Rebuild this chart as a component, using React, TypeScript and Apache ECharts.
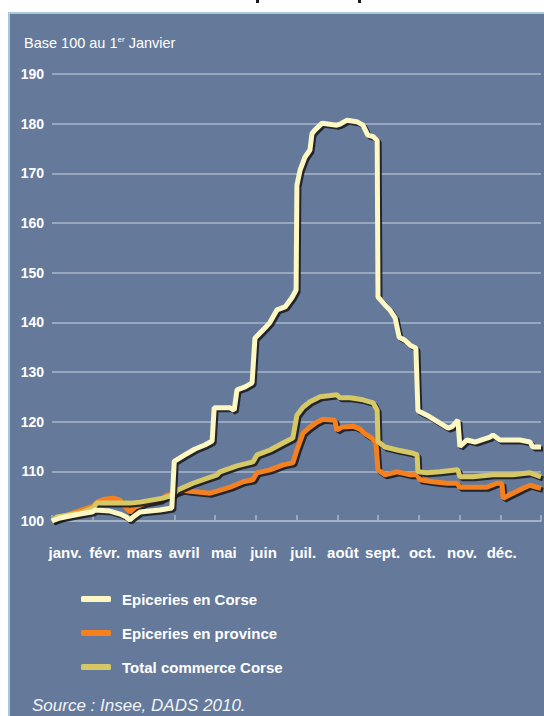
import React, { useEffect, useRef } from 'react';
import * as echarts from 'echarts';

const months = ['janv.', 'févr.', 'mars', 'avril', 'mai', 'juin', 'juil.', 'août', 'sept.', 'oct.', 'nov.', 'déc.'];
const seriesNames = ['Epiceries en Corse', 'Epiceries en province', 'Total commerce Corse'];

// [month position (0 = 1er janvier, 12 = fin décembre), indice base 100]
const corse: [number, number][] = [
  [0.0, 100], [0.2, 100.6], [0.44, 101.0], [0.69, 101.4], [0.98, 101.8], [1.06, 102.2], [1.42, 102.0],
  [1.67, 101.4], [1.82, 100.8], [1.91, 100.2], [1.99, 100.8], [2.16, 101.8], [2.4, 102.0], [2.65, 102.2],
  [2.94, 102.6], [3.0, 112.0], [3.26, 113.3], [3.51, 114.5], [3.75, 115.3], [3.93, 116.1], [3.98, 122.8],
  [4.37, 122.8], [4.47, 122.3], [4.54, 126.4], [4.74, 127.0], [4.91, 127.8], [4.98, 136.8], [5.23, 138.9],
  [5.35, 140.0], [5.52, 142.5], [5.72, 143.1], [5.89, 145.0], [5.99, 146.5], [6.01, 167.6], [6.09, 170.7],
  [6.21, 173.3], [6.33, 174.7], [6.38, 178.0], [6.45, 178.7], [6.63, 180.1], [6.99, 179.7], [7.07, 179.9],
  [7.24, 180.7], [7.48, 180.4], [7.63, 179.7], [7.75, 177.7], [7.88, 177.4], [7.98, 176.6], [8.0, 145.1],
  [8.17, 143.5], [8.29, 142.5], [8.42, 140.9], [8.52, 137.0], [8.66, 136.4], [8.79, 135.4], [8.93, 134.8],
  [8.98, 122.2], [9.2, 121.3], [9.52, 119.7], [9.72, 118.7], [9.82, 119.0], [9.96, 120.3], [10.01, 115.0],
  [10.18, 116.3], [10.38, 115.9], [10.75, 116.9], [10.82, 117.3], [10.99, 116.3], [11.48, 116.3],
  [11.73, 115.9], [11.8, 114.9], [12.0, 114.9],
];

const province: [number, number][] = [
  [0.0, 100], [0.44, 101.4], [1.01, 103.0], [1.1, 103.8], [1.3, 104.4], [1.5, 104.6], [1.67, 104.2],
  [1.84, 102.4], [1.91, 101.8], [2.04, 102.8], [2.28, 103.6], [2.65, 104.2], [2.82, 105.2], [2.94, 105.4],
  [3.07, 105.8], [3.21, 106.2], [3.39, 106.0], [3.63, 105.8], [3.88, 105.6], [4.05, 106.0], [4.37, 106.8],
  [4.69, 107.9], [4.93, 108.3], [5.03, 109.7], [5.35, 110.3], [5.67, 111.3], [5.91, 111.7], [6.01, 114.3],
  [6.16, 117.7], [6.33, 118.9], [6.5, 119.9], [6.65, 120.5], [6.94, 120.3], [6.99, 118.3], [7.12, 118.9],
  [7.39, 119.1], [7.56, 118.5], [7.68, 117.6], [7.85, 116.7], [7.95, 115.7], [8.0, 110.3], [8.17, 109.3],
  [8.47, 109.9], [8.79, 109.3], [8.96, 109.3], [9.03, 108.3], [9.35, 107.9], [9.69, 107.6], [9.94, 107.6],
  [10.01, 106.8], [10.67, 106.8], [10.92, 107.6], [11.04, 107.6], [11.07, 104.6], [11.31, 105.6],
  [11.56, 106.6], [11.73, 107.2], [11.9, 106.8], [12.0, 106.6],
];

const commerce: [number, number][] = [
  [0.0, 100], [0.12, 100.8], [0.69, 101.6], [1.01, 102.6], [1.1, 103.6], [1.5, 103.6], [1.91, 103.6],
  [2.16, 103.8], [2.72, 104.6], [2.97, 105.2], [3.07, 106.2], [3.46, 107.6], [4.05, 109.3], [4.12, 109.9],
  [4.54, 111.1], [4.93, 111.9], [5.03, 113.3], [5.35, 114.3], [5.67, 115.7], [5.91, 116.7], [6.01, 121.3],
  [6.16, 122.9], [6.33, 124.0], [6.58, 125.0], [6.99, 125.4], [7.07, 124.8], [7.31, 124.8], [7.63, 124.4],
  [7.88, 123.8], [7.98, 122.3], [8.0, 116.0], [8.17, 114.9], [8.47, 114.3], [8.83, 113.7], [8.96, 113.3],
  [8.98, 109.9], [9.2, 109.7], [9.52, 109.9], [9.96, 110.3], [10.01, 108.9], [10.33, 108.9], [10.82, 109.3],
  [11.31, 109.3], [11.73, 109.7], [12.0, 108.9],
];

const colors = ['#fdf7c3', '#f4801f', '#d7c866'];
const labelAt = (i: number) => 0.32 + 0.974 * i;

export default function App() {
  const ref = useRef<HTMLDivElement>(null);
  useEffect(() => {
    const chart = echarts.init(ref.current!, null, { renderer: 'svg' });
    const font = 'Liberation Sans, Arial, sans-serif';
    const shadowColor = 'rgba(28,28,32,0.9)';
    const line = (name: string, data: [number, number][], color: string, z: number) => ({
      name,
      type: 'line',
      data,
      symbol: 'none',
      z,
      lineStyle: { color, width: 5 },
      itemStyle: { color },
    });
    const shade = (data: [number, number][], z: number) => ({
      name: 'ombre',
      type: 'line',
      xAxisIndex: 1,
      yAxisIndex: 1,
      data,
      symbol: 'none',
      silent: true,
      z,
      lineStyle: { color: shadowColor, width: 5 },
    });
    const hiddenAxis = { show: false, type: 'value' };
    chart.setOption({
      animation: false,
      grid: [
        { left: 52, right: 3, top: 74, bottom: 195 },
        { left: 54, right: 1, top: 76, bottom: 193 },
      ],
      xAxis: [
        {
          type: 'value',
          min: 0,
          max: 12,
          interval: 1,
          axisLine: { show: true, lineStyle: { color: '#a9b7c9', width: 1.5 } },
          axisTick: { show: true, inside: true, length: 6, lineStyle: { color: '#a9b7c9', width: 1.5 } },
          splitLine: { show: false },
          axisLabel: {
            customValues: months.map((_, i) => labelAt(i)),
            formatter: (v: number) => months[Math.round((v - 0.32) / 0.974)] ?? '',
            color: '#ffffff',
            fontFamily: font,
            fontWeight: 'bold',
            fontSize: 15,
            margin: 24,
          },
        },
        { ...hiddenAxis, gridIndex: 1, min: 0, max: 12 },
      ],
      yAxis: [
        {
          type: 'value',
          min: 100,
          max: 190,
          interval: 10,
          axisLine: { show: false },
          axisTick: { show: false },
          splitLine: { lineStyle: { color: '#a9b7c9', width: 1.5 } },
          axisLabel: { color: '#ffffff', fontFamily: font, fontWeight: 'bold', fontSize: 14, margin: 8 },
        },
        { ...hiddenAxis, gridIndex: 1, min: 100, max: 190 },
      ],
      legend: {
        orient: 'vertical',
        left: 76,
        top: 585,
        itemWidth: 30,
        itemHeight: 6,
        itemGap: 16,
        icon: 'roundRect',
        data: seriesNames,
        selectedMode: false,
        textStyle: { color: '#ffffff', fontFamily: font, fontWeight: 'bold', fontSize: 15, lineHeight: 18, padding: [0, 0, 0, 6] },
      },
      graphic: [
        { type: 'rect', shape: { x: 256, y: 0, width: 3, height: 3 }, style: { fill: '#1a1a1a' } },
        { type: 'rect', shape: { x: 358, y: 0, width: 3, height: 3 }, style: { fill: '#1a1a1a' } },
        {
          type: 'text',
          left: 24,
          top: 35,
          style: {
            text: '{a|Base 100 au 1}{b|er}{a| Janvier}',
            rich: {
              a: { fontFamily: font, fontSize: 14.5, fill: '#ffffff', lineHeight: 16 },
              b: { fontFamily: font, fontSize: 8, fill: '#ffffff', lineHeight: 9, verticalAlign: 'top' },
            },
          },
        },
        {
          type: 'text',
          left: 32,
          top: 697,
          style: { text: 'Source : Insee, DADS 2010.', fontFamily: font, fontSize: 17, fontStyle: 'italic', fill: '#f2f4f7' },
        },
      ],
      series: [
        shade(province, 1),
        line(seriesNames[1], province, colors[1], 2),
        shade(commerce, 3),
        line(seriesNames[2], commerce, colors[2], 4),
        shade(corse, 5),
        line(seriesNames[0], corse, colors[0], 6),
      ],
    });
    return () => chart.dispose();
  }, []);
  return (
    <div style={{ position: 'absolute', left: 0, top: 0, width: 544, height: 716, background: '#ffffff', overflow: 'hidden' }}>
      <div
        style={{
          position: 'absolute',
          left: 8,
          top: 12,
          width: 536,
          height: 704,
          background: '#657a9a',
          borderTop: '2px solid #a8c9dc',
          borderLeft: '2px solid #a8c9dc',
          boxSizing: 'border-box',
        }}
      />
      <div ref={ref} style={{ position: 'absolute', left: 0, top: 0, width: 544, height: 716 }} />
    </div>
  );
}
